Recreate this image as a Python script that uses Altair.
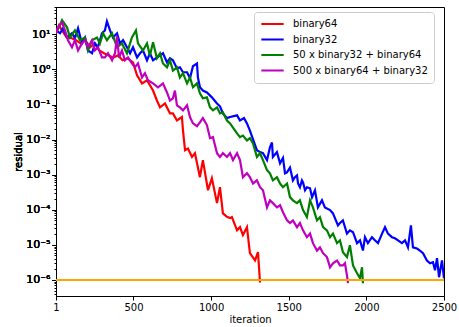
import altair as alt
import pandas as pd

# ---------------- data ----------------
series_names = ["binary64", "binary32", "50 x binary32 + binary64", "500 x binary64 + binary32"]
series_colors = ["#ff0000", "#0000ff", "#008000", "#bf00bf"]

binary64_iter = [1, 20, 40, 70, 100, 130, 160, 190, 220, 250,
                 280, 310, 340, 370, 400, 430, 460, 497, 523, 555,
                 587, 626, 651, 671, 703, 735, 754, 780, 812, 819,
                 832, 851, 877, 896, 928, 947, 980, 1005, 1038, 1057,
                 1076, 1102, 1122, 1134, 1167, 1186, 1205, 1231, 1250, 1283,
                 1302, 1315]
binary64_res = [11.0, 17.8, 12.9, 8.1, 7.8, 6.8, 5.5, 6.8, 4.27, 5.5,
                3.47, 2.88, 2.51, 2.19, 2.51, 1.82, 2.09, 1.58, 0.68, 0.40,
                0.49, 0.25, 0.13, 0.083, 0.107, 0.056, 0.056, 0.035, 0.044, 0.018,
                0.005, 0.0056, 0.0032, 0.0041, 0.00085, 0.0026, 0.00036, 0.00079, 0.000155, 0.00044,
                7.9e-5, 6.3e-5, 5.8e-5, 6.2e-5, 2.6e-5, 3.2e-5, 1.9e-5, 3.2e-5, 5.8e-6, 3.6e-6,
                6.2e-6, 8.5e-7]

binary32_iter = [1, 27, 46, 72, 104, 123, 143, 168, 188, 207,
                 233, 252, 271, 297, 316, 329, 349, 368, 394, 413,
                 433, 458, 478, 497, 523, 542, 561, 587, 606, 626,
                 651, 671, 690, 716, 735, 754, 780, 799, 819, 845,
                 864, 883, 909, 915, 928, 947, 973, 1005, 1038, 1057,
                 1076, 1102, 1122, 1167, 1186, 1212, 1231, 1250, 1270, 1295,
                 1315, 1334, 1360, 1379, 1392, 1398, 1424, 1444, 1463, 1476,
                 1489, 1508, 1527, 1540, 1553, 1560, 1572, 1585, 1592, 1605,
                 1617, 1637, 1650, 1669, 1688, 1714, 1733, 1766, 1785, 1817,
                 1830, 1849, 1875, 1894, 1914, 1940, 1959, 1978, 1991, 2010,
                 2036, 2055, 2075, 2101, 2120, 2139, 2165, 2184, 2204, 2229,
                 2249, 2268, 2287, 2300, 2326, 2345, 2365, 2390, 2410, 2429,
                 2442, 2455, 2468, 2487, 2500]
binary32_res = [12.9, 10.7, 14.8, 8.1, 10.7, 7.8, 14.8, 5.5, 8.1, 3.47,
                2.88, 5.5, 4.27, 10.7, 12.9, 23.4, 12.9, 8.1, 10.7, 5.5,
                6.8, 4.27, 2.88, 4.27, 2.19, 2.88, 3.47, 1.82, 2.88, 1.82,
                2.19, 2.51, 2.88, 1.58, 2.09, 1.82, 1.07, 1.15, 0.83, 0.83,
                0.56, 1.23, 1.48, 0.59, 0.31, 0.25, 0.22, 0.16, 0.107, 0.089,
                0.056, 0.041, 0.044, 0.049, 0.035, 0.041, 0.029, 0.018, 0.0102, 0.005,
                0.0044, 0.0041, 0.0026, 0.006, 0.0083, 0.0032, 0.0044, 0.0021, 0.003, 0.0011,
                0.00117, 0.0016, 0.00069, 0.00085, 0.00095, 0.00056, 0.00044, 0.00069, 0.0006, 0.00036,
                0.00044, 0.00041, 0.00023, 0.00036, 0.000117, 0.000186, 0.000117, 9.8e-5, 7.9e-5, 3.6e-5,
                4.2e-5, 5.0e-5, 2.1e-5, 2.6e-5, 2.3e-5, 1.12e-5, 1.35e-5, 6.9e-6, 1.66e-5, 1.12e-5,
                1.66e-5, 1.35e-5, 1.12e-5, 2.1e-5, 3.2e-5, 2.1e-5, 1.66e-5, 1.55e-5, 1.35e-5, 1.12e-5,
                1.35e-5, 8.5e-6, 3.6e-5, 8.5e-6, 7.9e-6, 6.9e-6, 5.8e-6, 3.6e-6, 3.0e-6, 3.2e-6,
                1.9e-6, 4.2e-6, 1.2e-6, 3.6e-6, 1.12e-6]

mixed50_iter = [1, 40, 72, 91, 123, 156, 188, 207, 233, 265,
                284, 304, 329, 362, 394, 426, 458, 490, 516, 529,
                561, 587, 606, 626, 651, 671, 690, 716, 735, 754,
                780, 799, 819, 845, 864, 883, 909, 928, 947, 973,
                993, 1012, 1038, 1057, 1076, 1102, 1122, 1141, 1167, 1186,
                1205, 1231, 1250, 1270, 1295, 1315, 1334, 1360, 1379, 1398,
                1424, 1444, 1463, 1489, 1508, 1527, 1553, 1572, 1592, 1617,
                1637, 1656, 1682, 1701, 1721, 1746, 1766, 1785, 1811, 1830,
                1849, 1875, 1894, 1914, 1940, 1959, 1972, 1978]
mixed50_res = [10.7, 25.1, 15.8, 8.1, 12.9, 6.8, 8.1, 3.47, 6.8, 8.1,
               5.5, 10.7, 6.8, 10.7, 4.27, 5.5, 2.88, 8.1, 12.9, 5.5,
               3.47, 5.5, 2.51, 5.9, 2.09, 2.88, 1.48, 1.15, 1.82, 0.93,
               1.15, 0.59, 0.78, 0.40, 0.59, 0.31, 0.40, 0.21, 0.15, 0.16,
               0.083, 0.068, 0.083, 0.056, 0.060, 0.035, 0.029, 0.022, 0.015, 0.0117,
               0.013, 0.0095, 0.011, 0.0078, 0.0032, 0.0041, 0.0026, 0.00135, 0.0011, 0.00069,
               0.00085, 0.00056, 0.00044, 0.00056, 0.00023, 0.000186, 0.000155, 0.000186, 9.8e-5, 6.2e-5,
               0.000186, 0.000117, 5.0e-5, 6.2e-5, 3.2e-5, 2.6e-5, 1.66e-5, 2.1e-5, 1.12e-5, 1.35e-5,
               6.2e-6, 4.5e-6, 9.8e-6, 2.6e-6, 1.55e-6, 1.12e-6, 2.3e-6, 8.1e-7]

mixed500_iter = [1, 14, 40, 59, 78, 104, 123, 143, 168, 188,
                 207, 233, 252, 271, 297, 316, 336, 362, 381, 394,
                 407, 426, 445, 465, 490, 510, 529, 555, 574, 593,
                 626, 658, 690, 716, 735, 754, 767, 780, 799, 819,
                 845, 864, 883, 909, 928, 947, 973, 993, 1012, 1038,
                 1057, 1076, 1102, 1122, 1141, 1167, 1186, 1205, 1231, 1250,
                 1270, 1295, 1315, 1334, 1360, 1379, 1398, 1424, 1444, 1463,
                 1489, 1508, 1527, 1553, 1572, 1592, 1617, 1637, 1656, 1682,
                 1701, 1721, 1746, 1766, 1785, 1811, 1830, 1849, 1862, 1875,
                 1882]
mixed500_res = [10.7, 15.8, 21.9, 12.9, 6.8, 4.27, 6.8, 3.47, 5.5, 6.8,
                4.27, 6.8, 3.47, 4.27, 2.19, 2.19, 2.88, 1.82, 2.88, 8.7,
                2.19, 3.47, 1.82, 2.19, 1.48, 1.15, 1.48, 0.59, 0.78, 0.49,
                0.40, 0.31, 0.40, 0.22, 0.13, 0.15, 0.25, 0.095, 0.083, 0.068,
                0.095, 0.044, 0.029, 0.024, 0.031, 0.041, 0.026, 0.011, 0.0117, 0.0041,
                0.0032, 0.0041, 0.0032, 0.0041, 0.0026, 0.0041, 0.0026, 0.00085, 0.0011, 0.00085,
                0.00056, 0.00069, 0.00044, 0.00036, 0.000117, 0.000186, 0.000155, 0.000117, 0.000135, 8.5e-5,
                5.0e-5, 4.2e-5, 5.0e-5, 3.2e-5, 4.2e-5, 2.6e-5, 1.66e-5, 2.1e-5, 1.12e-5, 6.9e-6,
                8.5e-6, 5.8e-6, 4.5e-6, 2.3e-6, 3.0e-6, 3.6e-6, 2.6e-6, 2.6e-6, 3.0e-6, 1.35e-6,
                8.1e-7]

threshold = [1e-6]
x_ticks = [1, 500, 1000, 1500, 2000, 2500]
y_major = [1e-6, 1e-5, 1e-4, 1e-3, 1e-2, 1e-1, 1, 10]

# ---------------- build table ----------------
frames = []
for name, its, res in zip(series_names,
                          [binary64_iter, binary32_iter, mixed50_iter, mixed500_iter],
                          [binary64_res, binary32_res, mixed50_res, mixed500_res]):
    frames.append(pd.DataFrame({"series": name, "iteration": its, "residual": res}))

y_minor = []
for e in range(-7, 2):
    for m in range(2, 10):
        v = m * 10.0 ** e
        if 3.5e-7 <= v <= 60:
            y_minor.append(v)

FONT = "DejaVu Sans"
x_scale = alt.Scale(domain=[1, 2500], nice=False, zero=False)
y_scale = alt.Scale(type="log", domain=[3.5e-7, 60], nice=False)
color_scale = alt.Scale(domain=series_names, range=series_colors)

label_expr = ("datum.value > 5 ? '10¹' : datum.value > 0.5 ? '10⁰' : datum.value > 0.05 ? '10⁻¹' : "
              "datum.value > 0.005 ? '10⁻²' : datum.value > 0.0005 ? '10⁻³' : datum.value > 0.00005 ? '10⁻⁴' : "
              "datum.value > 0.000005 ? '10⁻⁵' : '10⁻⁶'")

x_axis = alt.Axis(values=x_ticks, format="d", title="iteration", grid=False, labelFlush=False,
                  tickSize=4, labelPadding=2, titlePadding=2)
y_axis = alt.Axis(values=y_major, labelExpr=label_expr, title="residual", grid=False,
                  tickSize=4, labelPadding=2, labelFontSize=11, titlePadding=2, orient="left")
y_minor_axis = alt.Axis(values=y_minor, labels=False, title=None, grid=False, domain=False,
                        tickSize=2, orient="left")

layers = []
for i, df in enumerate(frames):
    layers.append(
        alt.Chart(df).mark_line(strokeWidth=2.2, clip=True).encode(
            x=alt.X("iteration:Q", scale=x_scale, axis=x_axis),
            y=alt.Y("residual:Q", scale=y_scale, axis=y_axis),
            color=alt.Color("series:N", scale=color_scale,
                            legend=alt.Legend(title=None, orient="none", legendX=198, legendY=5,
                                              symbolType="stroke", symbolSize=500,
                                              symbolStrokeWidth=2, labelFontSize=10,
                                              labelFont=FONT, clipHeight=12, rowPadding=3.5,
                                              labelOffset=8, padding=6,
                                              fillColor="white", strokeColor="#cccccc",
                                              cornerRadius=3)),
            order=alt.Order("iteration:Q"),
        )
    )

rule = alt.Chart(pd.DataFrame({"threshold": threshold})).mark_rule(
    color="#ffa500", strokeWidth=2).encode(
    y=alt.Y("threshold:Q", scale=y_scale, axis=y_minor_axis)
)

chart = alt.layer(*layers, rule).resolve_axis(y="independent").properties(
    width=388, height=289, background="white",
    padding={"left": 56, "top": 7, "right": 15, "bottom": 31},
    autosize=alt.AutoSizeParams(type="none"),
).configure_axis(
    labelFont=FONT, titleFont=FONT, labelFontSize=10, titleFontSize=10,
    titleFontWeight="normal", labelColor="black", titleColor="black",
    domainColor="black", tickColor="black", domainWidth=1,
).configure_view(stroke="black", strokeWidth=1)

chart.save("out.html", embed_options={"renderer": "svg", "actions": False})
